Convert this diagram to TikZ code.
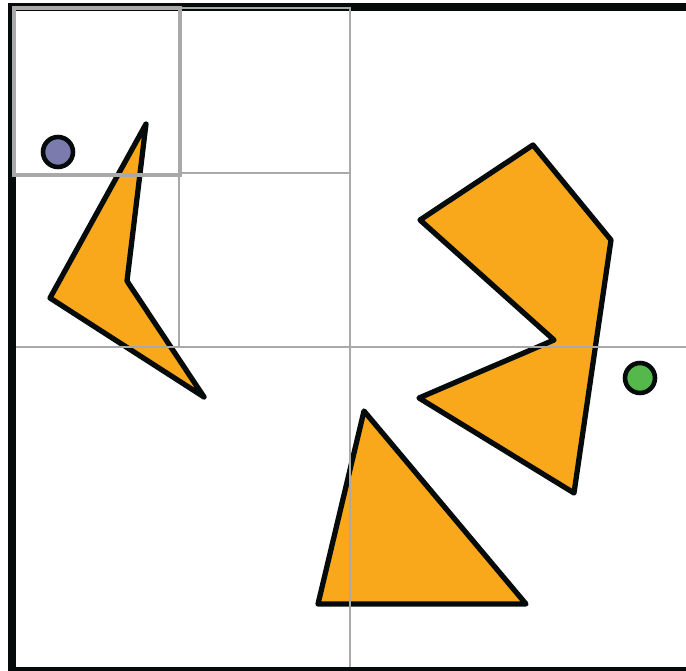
\documentclass[tikz,border=0pt]{standalone}
\usepackage{tikz}
\definecolor{shapeorange}{HTML}{F9A81B}
\definecolor{gridgray}{HTML}{A8A9A8}
\definecolor{dotblue}{HTML}{7B7BAD}
\definecolor{dotgreen}{HTML}{55B84A}
\definecolor{inkblack}{HTML}{050A0A}
\tikzset{
	frame/.style={fill=inkblack},
	polygon/.style={draw=inkblack, fill=shapeorange, line width=3pt, line join=round},
	dot/.style={circle, draw=inkblack, line width=2.6pt, minimum size=0.6cm, inner sep=0pt},
	gridline/.style={draw=gridgray, line width=1.1pt},
	cellline/.style={draw=gridgray, line width=2pt}
}
\begin{document}
\begin{tikzpicture}[x=0.02cm, y=-0.02cm]
		\useasboundingbox (0,0) rectangle (686,671);
		% Marco
		\fill [frame] (8,3) rectangle (686,11);
		\fill [frame] (8,3) rectangle (16,671);
		\fill [frame] (8,667) rectangle (686,671);
		
		% Figuras
		\draw [polygon] (146,124) -- (127,281) -- (204,397) -- (50,298) -- cycle;
		\draw [polygon] (533,145) -- (611,240) -- (574,493) -- (419,398) -- (554,340) -- (420,220) -- cycle;
		\draw [polygon] (364,411) -- (526,604) -- (318,604) -- cycle;
		
		% Puntos
		\node (start) [dot, fill=dotblue] at (58,152) {};
		\node (goal) [dot, fill=dotgreen] at (640,378) {};
		
		% Celdas
		\draw [gridline] (179,8) -- (350,8) -- (350,667);
		\draw [gridline] (16,347) -- (686,347);
		\draw [gridline] (179,173) -- (350,173);
		\draw [gridline] (179,175) -- (179,347);
		\draw [cellline] (14,8) rectangle (180,175);
	\end{tikzpicture}
\end{document}
